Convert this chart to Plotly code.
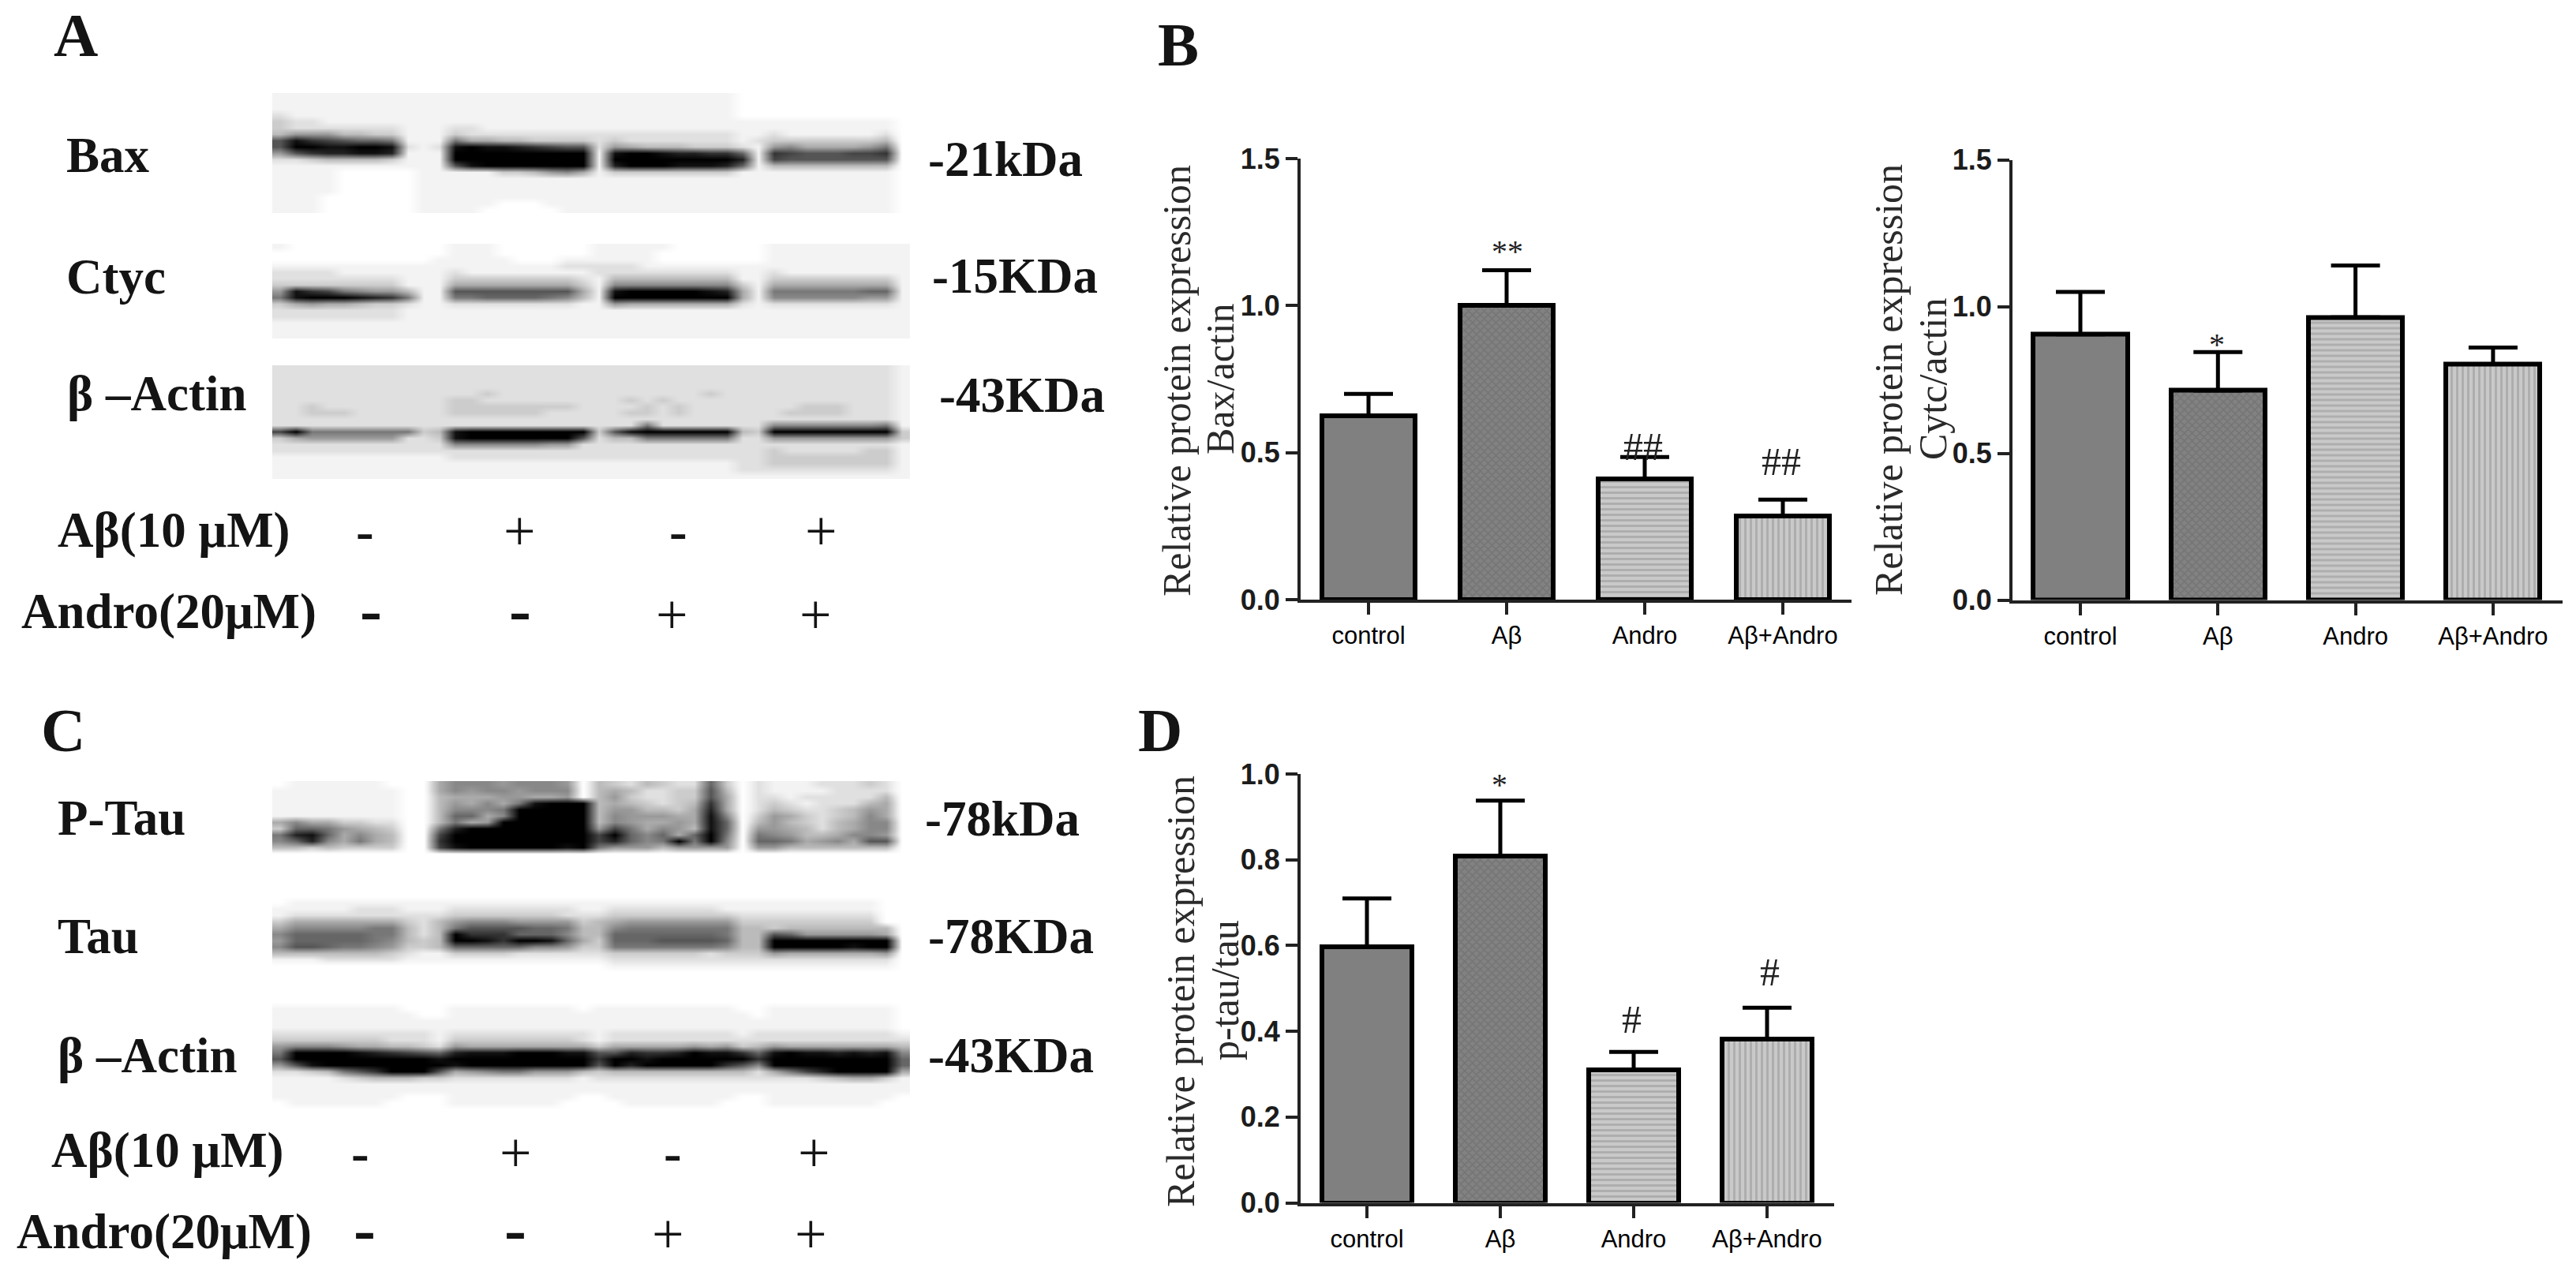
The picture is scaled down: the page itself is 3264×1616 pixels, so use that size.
import plotly.graph_objects as go

W, H = 3264, 1616

categories = ["control", "Aβ", "Andro", "Aβ+Andro"]

bax_values = [0.625, 1.0, 0.41, 0.285]
bax_errors = [0.075, 0.12, 0.075, 0.055]
bax_ticks = [0.0, 0.5, 1.0, 1.5]

cytc_values = [0.905, 0.714, 0.963, 0.804]
cytc_errors = [0.145, 0.131, 0.177, 0.056]
cytc_ticks = [0.0, 0.5, 1.0, 1.5]

ptau_values = [0.597, 0.809, 0.311, 0.381]
ptau_errors = [0.113, 0.129, 0.041, 0.074]
ptau_ticks = [0.0, 0.2, 0.4, 0.6, 0.8, 1.0]

# Blot densities: 0 = black, f = white
blot_bax = """
eeeeeeee eee eeeeeeee ee eeeeeeee ff ffffffff f
eeeeeeee eee eeeeeeee ee eeeeeeee ff ffffffff f
eeeeeeee eee eeeeeeee ee eeeeeeee ff ffffffff f
deeeeeee eee eeeeeeee ee eeeeeeee ff ffffffff f
cddeeeee eee eeeeeeee ee eeeeeeee ee eeeeeeee f
cddddddd eee ddeeeeee ee eeeeeeee ee eeeeeeee f
b999bbcc eee cddddddd dd dddddddd ee deeeeeed f
51345667 eee 7aabbccc cd cddddddd ed cccccccb f
50011001 ded 10112345 5d 9abbbccc de 98aaaa97 f
95322112 eee 00000000 0e 10012233 6e 34555443 f
ddcbbbbc eee 00000000 0e 00000000 2e 45555555 f
eeeeeeee eee 51000000 0e 20001112 6e bbbbbbbb f
eeeeffff fee eeeccb98 ae cccccccc ee eeeeeeee f
eeeeffff fee eeeeeeee ee eeeeeeee ee eeeeeeee f
eeeeffff fee eeeeeeee ee eeeeeeee ee eeeeeeee f
eeeeffff fee eeeeeeee ee eeeeeeee ee eeeeeeee f
eeefffff fee eeeeeeee ee eeeeeeee ee eeeeeeee f
eeefffff fee eeefffee ee eeeeeeee ee eeeeeeee f
eeefffff fee eefffffe ee eeeeeeee ee eeeeeeee f
"""

blot_ctyc = """
efffffff fff eeefffff fe eeeeffff ff eeeeeeee e
ffffffff fff eeefffff fe eeefffff ff eeeeeeee e
ffffffff ffe eeeefffe ee eeefffff ff eeeeeeee e
eeeeeeee eee eeeeeeed dd ddeeeeee ee eeeeeeee e
ddddeeee eee deeeeeee ed dddddddd ee deeeeeee e
dddddddd eee cccccccc de bbbbbbbb ee cccccccc e
cccccccc eee aaaaaaaa ce 88888888 ce aaaaaaaa e
91347899 bee 55555555 ae 10000012 ae 77777766 e
71000123 7ee 77666678 be 00000000 ae 88888899 e
ca9aabcc dee dddddddd ee 9aaaaaaa de dddddddd e
dddddddd eee eeeeeeee ee eeeeeeee ee eeeeeeee e
dddddddd eee eeeeeeee ee eeeeeeee ee eeeeeeee e
eeeeeeee eee eeeeeeee ee eeeeeeee ee eeeeeeee e
eeeeeeee eee eeeeeeee ee eeeeeeee ee eeeeeeee e
eeeeeeee eee eeeeeeee ee eeeeeeee ee eeeeeeee e
"""

blot_actin_a = """
dddddddd ddd dddddddd dd dddddddd dd dddddddd e
dddddddd ddd dddddddd dd dddddddd dd dddddddd e
dddddddd ddd dddddddd dd dddddddd dd dddddddd e
dddddddd ddd dddddddd dd dddddddd dd dddddddd e
dddddddd ddd ddcddddd dd ddddddcd dd dddddddd e
dddddddd ddd ccdddddd dd dcdcdddd dd dddddddd e
ddcddddd ddd cccccccc dd ddcdcddd dd ddcccddd e
ddcccddd ddd ccccccdd dd dccdcddd dd dccccddd e
dddddddd ddd dddddddd dd dddddddd dd dddddddd e
dddddddd ddd dddddddd dd dd7ddddd dd 88888887 e
40777777 7cb 10000000 0c 51000000 bc 00000000 c
ca999999 ddc 10000000 5d bb777777 dd 99999999 c
dddddddd ddd 88888899 dd dddddddd dd dddddddd e
dddddddd ddd dddddddd dd dddddddd dd cdddddcc e
eeeeeeee eee dddddddd dd dddddddd dd cccccccc e
eeeeeeee eee eeeeeeee ee eeeeeeee dd cccccccc e
eeeeeeee eee eeeeeeee ee eeeeeeee dd dddddddd e
eeeeeeee eee eeeeeeee ee eeeeeeee ee eeeeeeee e
"""

blot_ptau = """
feeeeeef ffa 88898889 fb cdbcdd6c fd eeedddcd f
eeeeeeee ffa 89889888 fb abddcc5b fd eeeedddd f
eeeeeeee ffb aaa99aa9 fb 9cddcc5a fd dedddddb f
eeeeeeee ffb 9a8a7100 0b abcdcb3a fd cdedddba f
eeeeeeee ffb 88870000 0b 99bbca2a fd bcddcb9a f
eeeeeeee ffb 66a80000 0b 8999aa18 fc 9acdcb8a f
a8aaccdd ffb 7a900000 0b 89aa9a16 fb 9bcdba88 f
c6679abc ff7 20000000 09 47a89b16 f9 9abdba88 f
7216a8ab ff4 00000000 04 0686a607 f7 89bba889 f
8628a7ab ff3 00000000 04 26870708 f6 67a98a55 f
bbcbcccc ff4 10000001 07 999b9999 f9 9bbbbbbb f
ffffffff fff ffffffff ff ffffffff ff ffffffff f
"""

blot_tau = """
ffffffff fff ffffffff ff ffffffff ff ffffffff f
feeeeeee eee eeeeeeee ee eeeeeeee ee eeeeeeef f
eeeeeddd eee dddddddd ee ddddddde ee eeeeeeef f
eddddddd ddd cccccccd dd cccccccc dd dddddddf f
caaaaaaa cdb 98889999 cb a9999999 cc cccccccf f
a8888877 bdb 75555667 bb 87777777 bb cbbbbbbb f
86666677 bdb 03336668 bb 66666667 bb 5699999a f
96666678 bcb 00130016 ac 66655556 bb 00000000 f
85567789 ccb 66666889 cc 77777778 bb 00000100 f
bbbbbbbc dee ccccdddd dd ccccccdc cc 9aaaaaa9 f
eeeddddd eee eeeeeeee ee dddddddd dd dddddddd f
ffffffff fff ffffffff ff eeeeeeee ee eeeeeeee f
ffffffff fff ffffffff ff ffffffff ff ffffffff f
"""

blot_actin_c = """
ffffffff fff ffffffff ff ffffffff ff ffffffff f
eeeeeeee fff eeeeeeee fe eeeeeeee ff eeeeeeee f
eeeeeeee eff eeeeeeee ee eeeeeeee ef eeeeeeee f
eeeeeeee eee eeeeeeee ee eeeeeeee ee eeeeeeee f
eeeeeeee eee eeeeeeee ee eeeeeeee ee eeeeeeee f
dddddddd dde dddddddd de dddddddd ed dddddddd e
cccccccd dde cccccccc de dddddddd dd dddddddd d
98889aab bcd 9aaaaaaa ac aaaaa9a9 cb 9aaaaaaa b
70000123 456 21110001 15 52332011 36 10112121 8
50000000 001 00000000 03 00100000 03 00000000 6
95100000 000 10000000 05 02000003 58 00000000 6
ddcb7530 005 a9877999 bc bbbbbbbb bd a7420000 a
eeeedcbb bcc dddddddd ed dddddddd dd dddcbaac e
eeeeeeee eee eeeeeeee ee eeeeeeee ee eeeeeeee e
eeeeeeee eee eeeeeeee ee eeeeeeee ee eeeeeeee e
eeeeeeee fff eeeeeeee ff eeeeeeee ff eeeeeeee f
feeeeeef fff eeeeeeef ff feeeeeef ff eeeeeeef f
ffffffff fff ffffffff ff ffffffff ff ffffffff f
"""


def grid(text):
    return [[int(c, 16) for c in line.replace(" ", "")] for line in text.strip().splitlines()]


SERIF = "Liberation Serif"
SANS = "Liberation Sans"
INK = "#141414"

fig = go.Figure()
annotations = []


def label(x, y, text, size=63, bold=True, anchor="left", family=SERIF, angle=0, color=INK):
    t = f"<b>{text}</b>" if bold else text
    annotations.append(dict(
        xref="paper", yref="paper", x=x / W, y=1 - y / H, text=t, showarrow=False,
        xanchor=anchor, yanchor="middle", textangle=angle, borderpad=0,
        font=dict(family=family, size=size, color=color)))


fig.update_layout(
    template="none",
    xaxis=dict(domain=[0, 1], range=[0, W], visible=False, fixedrange=True, automargin=False),
    yaxis=dict(domain=[0, 1], range=[H, 0], visible=False, fixedrange=True, automargin=False),
)
blots = [
    (blot_bax, 122), (blot_ctyc, 313), (blot_actin_a, 467),
    (blot_ptau, 994), (blot_tau, 1136), (blot_actin_c, 1270),
]
GREYS = [[0, "#000000"], [0.5, "#808080"], [0.8, "#cccccc"], [0.8667, "#e0e0e0"],
         [0.9333, "#f3f3f3"], [1, "#ffffff"]]
for rows, y0 in blots:
    fig.add_trace(go.Heatmap(
        z=grid(rows), x0=355, dx=20.2, y0=y0, dy=8, zmin=0, zmax=15, zsmooth="best",
        colorscale=GREYS, showscale=False, hoverinfo="skip", xaxis="x", yaxis="y"))

FILLS = dict(
    shape=["", "x", "-", "|"],
    bg=["#808080", "#828282", "#c9c9c9", "#c9c9c9"],
)


def bar_panel(idx, vals, errs, ticks, ymax, left, right, top, bottom, c0, step, bw):
    xa, ya = f"xaxis{idx}", f"yaxis{idx}"
    fig.add_trace(go.Bar(
        x=[0, 1, 2, 3], y=vals, width=bw, xaxis=f"x{idx}", yaxis=f"y{idx}", cliponaxis=False,
        marker=dict(
            color=FILLS["bg"], line=dict(color="#000000", width=6),
            pattern=dict(shape=FILLS["shape"], fgcolor="#666666", fgopacity=0.22,
                         size=7, solidity=0.4, fillmode="overlay")),
        error_y=dict(type="data", array=errs, arrayminus=[0, 0, 0, 0], symmetric=False,
                     color="#000000", thickness=5, width=31),
        showlegend=False, hoverinfo="skip"))
    fig.update_layout({
        xa: dict(domain=[left / W, right / W], anchor=f"y{idx}", automargin=False,
                 range=[(left - c0) / step, (right - c0) / step],
                 tickmode="array", tickvals=[0, 1, 2, 3], ticktext=categories,
                 showline=True, linewidth=4, linecolor="#222222", ticks="outside",
                 ticklen=15, tickwidth=4, tickcolor="#222222", showgrid=False, zeroline=False,
                 tickfont=dict(family=SANS, size=31, color="#000000"), fixedrange=True),
        ya: dict(domain=[1 - bottom / H, 1 - top / H], anchor=f"x{idx}", automargin=False,
                 range=[0, ymax], tickmode="array", tickvals=ticks,
                 ticktext=[f"{t:.1f}" for t in ticks],
                 showline=True, linewidth=4, linecolor="#222222", ticks="outside",
                 ticklen=15, tickwidth=4, tickcolor="#222222", showgrid=False, zeroline=False,
                 tickfont=dict(family=SANS, size=36, color="#1c1c1c", weight=700), fixedrange=True),
    })


bar_panel(2, bax_values, bax_errors, bax_ticks, 1.5, 1648, 2346, 201, 760, 1734, 175, 0.675)
bar_panel(3, cytc_values, cytc_errors, cytc_ticks, 1.5, 2550, 3247, 202.5, 760.5, 2636, 174.3, 0.683)
bar_panel(4, ptau_values, ptau_errors, ptau_ticks, 1.0, 1648, 2324, 981, 1524.6, 1732, 169, 0.67)

# Panel letters
label(96, 44, "A", 78, anchor="center")
label(1493, 56, "B", 78, anchor="center")
label(80, 926, "C", 78, anchor="center")
label(1470, 925, "D", 78, anchor="center")

# Panel A text
label(83, 197, "Bax")
label(83, 351, "Ctyc")
label(84, 499, "β –Actin")
label(1175, 202, "-21kDa")
label(1180, 350, "-15KDa")
label(1189, 501, "-43KDa")
label(72, 672, "Aβ(10 μM)")
label(26, 775, "Andro(20μM)")
# Panel C text
label(72, 1037, "P-Tau")
label(72, 1187, "Tau")
label(72, 1338, "β –Actin")
label(1171, 1038, "-78kDa")
label(1175, 1187, "-78KDa")
label(1175, 1338, "-43KDa")
label(64, 1458, "Aβ(10 μM)")
label(20, 1561, "Andro(20μM)")

# +/- rows
for (x, y, s, size) in [
    (462, 673, "-", 68), (658, 673, "+", 72), (859, 673, "-", 68), (1040, 673, "+", 72),
    (470, 772, "-", 84), (659, 772, "-", 84), (851, 779, "+", 72), (1033, 779, "+", 72),
    (456, 1461, "-", 68), (653, 1461, "+", 72), (852, 1461, "-", 68), (1031, 1461, "+", 72),
    (462, 1557, "-", 84), (653, 1557, "-", 84), (846, 1564, "+", 72), (1027, 1564, "+", 72),
]:
    label(x, y, s, size, bold=(s == "-"), anchor="center")

# Axis titles
for x, y, t in [
    (1491, 483, "Relative protein expression"), (1546, 480, "Bax/actin"),
    (2393, 482, "Relative protein expression"), (2449, 480, "Cytc/actin"),
    (1496, 1257, "Relative protein expression"), (1552, 1255, "p-tau/tau"),
]:
    label(x, y, t, 50, bold=False, anchor="center", angle=-90, color="#2a2a2a")

# Significance marks
for x, y, t, s in [
    (1910, 318, "**", 40), (2809, 436, "*", 40), (1900, 994, "*", 40),
    (2082, 566, "##", 50), (2257, 585, "##", 50),
    (2067, 1292, "#", 50), (2242, 1232, "#", 50),
]:
    label(x, y, t, s, bold=False, anchor="center", color="#222222")

fig.update_layout(
    width=W, height=H, margin=dict(l=0, r=0, t=0, b=0, pad=0), autosize=False,
    paper_bgcolor="#ffffff", plot_bgcolor="rgba(0,0,0,0)", showlegend=False,
    annotations=annotations, bargap=0,
)
fig.write_html("out.html", config={"displayModeBar": False},
               post_script="document.body.style.margin='0';")
